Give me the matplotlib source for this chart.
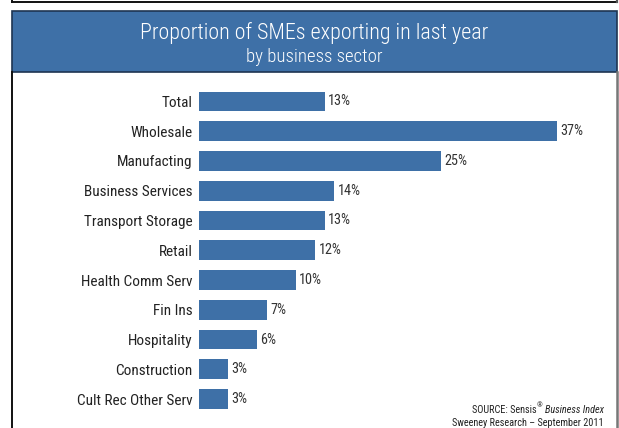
import matplotlib.pyplot as plt
from matplotlib import font_manager
from matplotlib.patches import Rectangle
from matplotlib.lines import Line2D

# sector export shares (%)
sectors = ['Total', 'Wholesale', 'Manufacting', 'Business Services',
           'Transport Storage', 'Retail', 'Health Comm Serv', 'Fin Ins',
           'Hospitality', 'Construction', 'Cult Rec Other Serv']
shares = [13, 37, 25, 14, 13, 12, 10, 7, 6, 3, 3]

title = 'Proportion of SMEs exporting in last year'
subtitle = 'by business sector'

# pick a narrow sans if one is around
fonts = {(f.name, f.stretch) for f in font_manager.fontManager.ttflist}
names = {n for n, _ in fonts}
stretch = 'normal'
family = 'DejaVu Sans'
for cand in ['Liberation Sans Narrow', 'Roboto Condensed', 'Open Sans Condensed',
             'Noto Sans Condensed', 'DejaVu Sans Condensed']:
    if cand in names:
        family = cand
        break
else:
    if ('DejaVu Sans', 'condensed') in fonts or ('DejaVu Sans', 'semi-condensed') in fonts:
        stretch = 'condensed'
    elif 'Roboto' in names:
        family = 'Roboto'
plt.rcParams['font.family'] = [family, 'DejaVu Sans']
plt.rcParams['font.stretch'] = stretch

W, H = 619, 428
fig = plt.figure(figsize=(W / 100, H / 100), dpi=100)
fig.patch.set_facecolor('white')

blue = '#3e70a7'


def px(x, y):
    return x / W, 1 - y / H


# frame above (only its bottom edge shows) and the panel borders
fig.add_artist(Line2D([12 / W, 617 / W], [1 - 1.5 / H] * 2, color='#111111', lw=1.4))
fig.add_artist(Line2D([12 / W] * 2, [1, 1 - 1.5 / H], color='#111111', lw=1.4))
fig.add_artist(Line2D([617 / W] * 2, [1, 1 - 1.5 / H], color='#555555', lw=1.6))
fig.add_artist(Line2D([12 / W] * 2, [0, 1 - 72 / H], color='#111111', lw=1.4))
fig.add_artist(Line2D([617 / W] * 2, [0, 1 - 72 / H], color='#777777', lw=1.8))

# title band
x0, y0 = px(12, 72)
fig.add_artist(Rectangle((x0, y0), 605 / W, 61 / H, facecolor=blue,
                         edgecolor='#1e3552', lw=1.2))
fig.text(314.5 / W, 1 - 33 / H, title, color='white', fontsize=15.8,
         ha='center', va='center', fontweight='light')
fig.text(314.5 / W, 1 - 57 / H, subtitle, color='white', fontsize=13.5,
         ha='center', va='center', fontweight='light')

# bar chart: 9.67 px per percentage point, rows 29.75 px apart
ax_left, ax_top, ax_bottom = 199, 86.6, 413.9
ax_width = 400
ax = fig.add_axes([ax_left / W, 1 - ax_bottom / H, ax_width / W, (ax_bottom - ax_top) / H])
ypos = list(range(len(sectors)))
ax.barh(ypos, shares, height=0.67, color=blue)
ax.set_xlim(0, ax_width / 9.67)
ax.set_ylim(len(sectors) - 0.5, -0.5)
ax.set_yticks(ypos)
ax.set_yticklabels(sectors, fontsize=11, color='#222222')
ax.tick_params(axis='y', length=0, pad=4.5)
ax.set_xticks([])
for s in ax.spines.values():
    s.set_visible(False)
ax.patch.set_alpha(0)

for y, v in zip(ypos, shares):
    ax.annotate(f'{v}%', (v, y), xytext=(2.5, 0), textcoords='offset points',
                va='center', ha='left', fontsize=10.3, color='#333333')

# source note, built right to left
fig.canvas.draw()
r = fig.canvas.get_renderer()
t1 = fig.text(604 / W, 1 - 410 / H, 'Business Index', fontsize=7.4,
              style='italic', color='#222222', ha='right', va='center')
bb = t1.get_window_extent(r)
t2 = fig.text(bb.x0 / W - 3 / W, 1 - 406 / H, '®', fontsize=5.2,
              color='#222222', ha='right', va='center')
bb2 = t2.get_window_extent(r)
fig.text(bb2.x0 / W, 1 - 410 / H, 'SOURCE: Sensis', fontsize=7.4,
         color='#222222', ha='right', va='center')
fig.text(604 / W, 1 - 423 / H, 'Sweeney Research – September 2011', fontsize=7.4,
         color='#222222', ha='right', va='center')

fig.savefig('out.png', dpi=100)
